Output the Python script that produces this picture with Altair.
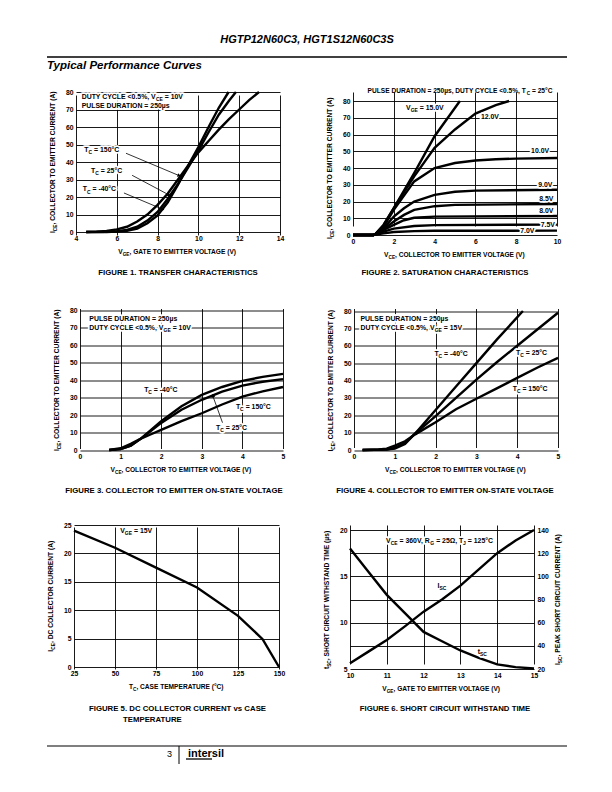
import math
import altair as alt
import pandas as pd

SANS = "Liberation Sans"
LW = 2.4
LABEL_SIZE = 6.9

# ---------------- Figure 1 : transfer characteristics
F1_NAMES = ["-40", "25", "150"]
F1_X_M40 = [4.5, 5.5, 6.0, 6.5, 7.0, 7.5, 8.0, 8.5, 9.0, 9.5, 10.0, 10.5, 11.0, 11.48]
F1_Y_M40 = [0, 0, 0.2, 0.7, 2, 5, 9.5, 17, 27, 38, 48.5, 60, 71, 80]
F1_X_25 = [4.5, 5.5, 6.0, 6.5, 7.0, 7.5, 8.0, 8.5, 9.0, 9.5, 10.0, 10.5, 11.0, 11.5, 11.84]
F1_Y_25 = [0, 0.1, 0.4, 1.2, 3, 6.5, 11.5, 19, 27.5, 37, 46.5, 57, 67, 75, 80]
F1_X_150 = [4.5, 5.0, 5.5, 6.0, 6.5, 7.0, 7.5, 8.0, 8.5, 9.0, 9.5, 10.0, 10.5, 11.0, 11.5, 12.0, 12.5, 12.97]
F1_Y_150 = [0, 0.2, 0.6, 1.5, 3, 6, 10, 15.5, 22, 30, 38, 45.5, 52, 58.5, 64.5, 70, 75.5, 80]
F1_LABELS = ["DUTY CYCLE <0.5%, V{CE} = 10V", "PULSE DURATION = 250µs", "T{C} = 150°C", "T{C} = 25°C", "T{C} = -40°C"]
F1_LABEL_X = [4.28, 4.28, 4.41, 4.74, 4.33]
F1_LABEL_Y = [77.7, 72, 46.9, 35, 24.6]
F1_ARROW_X1 = [6.45, 6.75, 6.35]
F1_ARROW_Y1 = [45.0, 32.4, 22.3]
F1_ARROW_X2 = [9.06, 8.57, 8.25]
F1_ARROW_Y2 = [32.2, 21.1, 13]

# ---------------- Figure 2 : saturation characteristics
F2_NAMES = ["15.0", "12.0", "10.0", "9.0", "8.5", "8.0", "7.5", "7.0"]
F2_X = [
    [0, 1.0, 1.1, 1.5, 2, 3, 4, 5.24],
    [0, 1.0, 1.1, 1.5, 2, 3, 4, 5, 6, 7, 7.65],
    [0, 1.0, 1.1, 1.5, 2, 3, 4, 5, 6, 7, 8, 10],
    [0, 1.0, 1.1, 1.5, 2, 2.5, 3, 4, 5, 6, 10],
    [0, 1.0, 1.1, 1.5, 2, 2.5, 3, 4, 5, 10],
    [0, 1.0, 1.1, 1.5, 2, 2.5, 3, 4, 10],
    [0, 1.0, 1.1, 1.5, 2, 3, 4, 10],
    [0, 1.0, 1.1, 1.5, 2, 3, 4, 10],
]
F2_Y = [
    [0, 0, 0.5, 6, 16, 37, 59, 80],
    [0, 0, 0.5, 6, 16, 35, 52, 63, 72.5, 77.5, 80],
    [0, 0, 0.5, 5, 15, 32, 40, 43, 44.5, 45.2, 45.6, 46],
    [0, 0, 0.5, 4, 11, 16, 20, 24, 25.8, 26.5, 27],
    [0, 0, 0.5, 3.5, 8, 12, 15, 17.2, 18, 18.5],
    [0, 0, 0.5, 3, 6, 8.8, 10.3, 11, 11.3],
    [0, 0, 0.3, 2, 3.8, 5.4, 5.9, 6.2],
    [0, 0, 0.2, 1, 1.8, 2.3, 2.5, 2.6],
]
F2_LABELS = ["V{GE} = 15.0V", "12.0V", "10.0V", "9.0V", "8.5V", "8.0V", "7.5V", "7.0V"]
F2_LABEL_X = [2.6, 6.27, 8.73, 9.08, 9.13, 9.13, 9.2, 8.2]
F2_LABEL_Y = [76.2, 71, 50.3, 30.3, 21.9, 14.9, 6, 2.6]

# ---------------- Figure 3 : on-state voltage, VGE = 10V
F3_NAMES = ["-40", "25", "150"]
F3_X = [0.72, 1.0, 1.25, 1.5, 1.75, 2.0, 2.5, 3.0, 3.5, 4.0, 4.5, 5.0]
F3_Y_M40 = [0, 0.5, 2.5, 6.5, 11.5, 16.5, 25, 31.5, 36, 39.5, 41.8, 43.5]
F3_Y_25 = [0, 0.5, 2.5, 6.5, 11, 15.5, 23, 28.7, 33.3, 36.8, 39, 40.5]
F3_Y_150 = [0, 1, 3.5, 6.5, 9, 11.5, 16.5, 21, 26, 30.5, 33.5, 36]
F3_LABELS = ["PULSE DURATION = 250µs", "DUTY CYCLE <0.5%, V{GE} = 10V", "T{C} = -40°C", "T{C} = 150°C", "T{C} = 25°C"]
F3_LABEL_X = [0.23, 0.23, 1.58, 3.84, 3.35]
F3_LABEL_Y = [74.9, 70.1, 34.7, 25.1, 12.7]
F3_ARROW_X1 = [3.51]
F3_ARROW_Y1 = [15.6]
F3_ARROW_X2 = [3.27]
F3_ARROW_Y2 = [31]

# ---------------- Figure 4 : on-state voltage, VGE = 15V
F4_NAMES = ["-40", "25", "150"]
F4_X_M40 = [0.21, 0.8, 1.0, 1.25, 1.5, 2.0, 2.5, 3.0, 3.5, 4.14]
F4_Y_M40 = [0, 0.2, 0.8, 3.5, 9.5, 23, 36.5, 50, 63.5, 80]
F4_X_25 = [0.21, 0.8, 1.0, 1.25, 1.5, 2.0, 2.5, 3.0, 3.5, 4.0, 4.5, 5.0]
F4_Y_25 = [0, 0.3, 1.2, 4, 9.5, 19.5, 30, 40.5, 50.5, 60, 69.5, 79]
F4_X_150 = [0.21, 0.6, 0.8, 1.0, 1.25, 1.5, 2.0, 2.5, 3.0, 3.5, 4.0, 4.5, 5.0]
F4_Y_150 = [0, 0.3, 0.8, 2.5, 5, 9, 16, 23.5, 29.5, 35.5, 41.5, 47.5, 53]
F4_LABELS = ["PULSE DURATION = 250µs", "DUTY CYCLE <0.5%, V{GE} = 15V", "T{C} = -40°C", "T{C} = 25°C", "T{C} = 150°C"]
F4_LABEL_X = [0.16, 0.16, 1.97, 3.97, 3.89]
F4_LABEL_Y = [75.4, 70.6, 55.7, 56, 35.5]

# ---------------- Figure 5 : DC collector current vs case temperature
F5_TC = [25, 50, 75, 100, 125, 140, 150]
F5_ICE = [24, 21, 17.5, 14, 9, 4.9, 0]
F5_LABELS = ["V{GE} = 15V"]
F5_LABEL_X = [53.2]
F5_LABEL_Y = [24.1]

# ---------------- Figure 6 : short circuit withstand time
F6_VGE = [10, 10.5, 11, 11.5, 12, 12.5, 13, 13.5, 14, 14.5, 15]
F6_TSC = [18, 15.5, 13, 11, 9, 8, 7, 6.2, 5.5, 5.2, 5.05]
F6_ISC = [25, 35, 45, 57, 69.5, 80, 92, 106, 120, 131, 140]
F6_LABELS = ["V{CE} = 360V, R{G} = 25Ω, T{J} = 125°C", "I{SC}", "t{SC}"]
F6_LABEL_X = [10.98, 12.38, 13.47]
F6_LABEL_Y = [18.9, 14, 6.87]

AXIS_TITLES = {
    "vge": "V{GE}, GATE TO EMITTER VOLTAGE (V)",
    "vce": "V{CE}, COLLECTOR TO EMITTER VOLTAGE (V)",
    "ice": "I{CE}, COLLECTOR TO EMITTER CURRENT (A)",
    "tc": "T{C}, CASE TEMPERATURE (°C)",
    "icedc": "I{CE}, DC COLLECTOR CURRENT (A)",
    "tsc": "t{SC}, SHORT CIRCUIT WITHSTAND TIME (µs)",
    "isc": "I{SC}, PEAK SHORT CIRCUIT CURRENT (A)",
}

CAPTIONS = [
    "FIGURE 1.  TRANSFER CHARACTERISTICS",
    "FIGURE 2.  SATURATION CHARACTERISTICS",
    "FIGURE 3.  COLLECTOR TO EMITTER ON-STATE VOLTAGE",
    "FIGURE 4.  COLLECTOR TO EMITTER ON-STATE VOLTAGE",
    "FIGURE 5.  DC COLLECTOR CURRENT vs CASE",
    "TEMPERATURE",
    "FIGURE 6.  SHORT CIRCUIT WITHSTAND TIME",
]

# Liberation Sans Bold advance widths (1/1000 em)
W = {" ": 278, "%": 889, "(": 333, ")": 333, ",": 278, "-": 333, ".": 278, "<": 584, "=": 584,
     "°": 400, "µ": 611, "Ω": 768, "s": 556, "t": 333, "v": 556}
for _c in "0123456789":
    W[_c] = 556
W.update({"A": 722, "B": 722, "C": 722, "D": 722, "E": 667, "F": 611, "G": 778, "H": 722, "I": 278,
          "J": 556, "K": 722, "L": 611, "M": 833, "N": 722, "O": 778, "P": 667, "Q": 778, "R": 722,
          "S": 667, "T": 611, "U": 722, "V": 667, "W": 944, "X": 667, "Y": 667, "Z": 611})


# ---------------- helpers
def series_df(names, xs_list, ys_list):
    rows = []
    for n, xs, ys in zip(names, xs_list, ys_list):
        for a, b in zip(xs, ys):
            rows.append({"s": n, "x": a, "y": b})
    return pd.DataFrame(rows)


def px(dom, rng):
    return lambda v: rng[0] + (v - dom[0]) / (dom[1] - dom[0]) * (rng[1] - rng[0])


def inv(dom, rng):
    return lambda p: dom[0] + (p - rng[0]) / (rng[1] - rng[0]) * (dom[1] - dom[0])


def tw(s, size):
    return sum(W.get(ch, 600) for ch in s) / 1000.0 * size


def parse(s):
    segs, cur, sub = [], "", False
    for ch in s:
        if ch in "{}":
            if cur:
                segs.append((cur, sub))
            cur, sub = "", ch == "{"
        else:
            cur += ch
    if cur:
        segs.append((cur, sub))
    return segs


def rich_rows(text, cx, cy, size, align, angle, ix, iy):
    """Segments of a label with subscripts; cx, cy in panel pixels (cy = vertical centre)."""
    segs = parse(text)
    subsize = 0.72 * size
    widths = [tw(t, subsize if s else size) for t, s in segs]
    cum = 0.0 if align == "left" else -sum(widths) / 2
    rows = []
    for (t, s), w in zip(segs, widths):
        fs = subsize if s else size
        lead = tw(t[: len(t) - len(t.lstrip(" "))], fs)
        down = 0.36 * size + (0.3 * size if s else 0)
        along = cum + lead
        if angle == 0:
            p, q = cx + along, cy + down
        else:
            p, q = cx + down, cy - along
        rows.append({"x": ix(p), "y": iy(q), "t": t.strip(), "fs": fs, "ang": angle})
        cum += w
    return rows


def rich_layers(rows, X, Y, halo):
    df = pd.DataFrame(rows)
    base = alt.Chart(df)
    kw = dict(align="left", baseline="alphabetic", font=SANS, fontWeight="bold")
    enc = dict(x=X, y=Y, text="t:N", size=alt.Size("fs:Q", scale=None),
               angle=alt.Angle("ang:Q", scale=None))
    out = []
    if halo:
        out.append(base.mark_text(stroke="white", strokeWidth=3.5, strokeJoin="round",
                                  color="white", **kw).encode(**enc))
    out.append(base.mark_text(color="black", **kw).encode(**enc))
    return out


def enc_x(dom, rng, vals, off=0):
    return alt.X("x:Q", scale=alt.Scale(domain=dom, range=rng, nice=False, zero=False),
                 axis=alt.Axis(values=vals, title=None, offset=off, labelFlush=False,
                               labelOverlap=False))


def enc_y(dom, rng, vals, off=0, orient="left", grid=True):
    return alt.Y("y:Q", scale=alt.Scale(domain=dom, range=rng, nice=False, zero=False),
                 axis=alt.Axis(values=vals, title=None, offset=off, labelFlush=False,
                               labelOverlap=False, orient=orient, grid=grid))


def lines(df, X, Y):
    return alt.Chart(df).mark_line(color="black", strokeWidth=LW).encode(x=X, y=Y, detail="s:N")


def annotations(X, Y, xd, xr, yd, yr, xs, ys, ts, xtitle, ytitle, extra=None, size=LABEL_SIZE):
    fx, fy, ix, iy = px(xd, xr), px(yd, yr), inv(xd, xr), inv(yd, yr)
    lab = []
    for a, b, t in zip(xs, ys, ts):
        lab += rich_rows(t, fx(a), fy(b), size, "left", 0, ix, iy)
    tit = rich_rows(AXIS_TITLES[xtitle], (xr[0] + xr[1]) / 2, yr[0] + 19.5, 6.6, "center", 0, ix, iy)
    if ytitle:
        tit += rich_rows(AXIS_TITLES[ytitle], xr[0] - 23, (yr[0] + yr[1]) / 2, 6.7, "center", 270, ix, iy)
    for item in (extra or []):
        tit += rich_rows(item[0], item[1], item[2], item[3], item[4], item[5], ix, iy)
    return rich_layers(lab, X, Y, True) + rich_layers(tit, X, Y, False)


def arrows(X, Y, xdom, xrng, ydom, yrng, x1, y1, x2, y2):
    fx, fy = px(xdom, xrng), px(ydom, yrng)
    ang = []
    for a, b, c, d in zip(x1, y1, x2, y2):
        dx, dy = fx(c) - fx(a), fy(d) - fy(b)
        ang.append((math.degrees(math.atan2(dx, -dy)) + 360) % 360)
    rdf = pd.DataFrame({"x": x1, "y": y1, "x2": x2, "y2": y2})
    hdf = pd.DataFrame({"x": x2, "y": y2, "a": ang})
    rule = alt.Chart(rdf).mark_rule(color="black", strokeWidth=0.8).encode(
        x=X, y=Y, x2="x2:Q", y2="y2:Q")
    head = alt.Chart(hdf).mark_point(shape="triangle-up", filled=True, color="black",
                                     size=16, opacity=1).encode(
        x=X, y=Y, angle=alt.Angle("a:Q", scale=None))
    return [rule, head]


def ptext(text, x, y, size, align="left", weight="normal", style="normal"):
    return alt.Chart(pd.DataFrame({"t": [text]})).mark_text(
        align=align, baseline="middle", fontSize=size, fontWeight=weight, fontStyle=style,
        font=SANS, color="black").encode(x=alt.value(x), y=alt.value(y), text="t:N")


def prule(x1, y1, x2, y2, w=1.2):
    return alt.Chart(pd.DataFrame({"k": [0]})).mark_rule(color="black", strokeWidth=w).encode(
        x=alt.value(x1), x2=alt.value(x2), y=alt.value(y1), y2=alt.value(y2))


def caption(text, x, y, align="center"):
    return ptext(text, x, y, 7.8, align=align, weight="bold")


# ---------------- Figure 1  (panel origin 73, 92)
x1d, x1r, y1d, y1r = [4, 14], [2, 206], [0, 80], [140, 0]
X1 = enc_x(x1d, x1r, [4, 6, 8, 10, 12, 14], -3)
Y1 = enc_y(y1d, y1r, list(range(0, 81, 10)), -2)
fig1 = alt.layer(
    lines(series_df(F1_NAMES, [F1_X_M40, F1_X_25, F1_X_150], [F1_Y_M40, F1_Y_25, F1_Y_150]), X1, Y1),
    *annotations(X1, Y1, x1d, x1r, y1d, y1r, F1_LABEL_X, F1_LABEL_Y, F1_LABELS, "vge", "ice"),
    *arrows(X1, Y1, x1d, x1r, y1d, y1r, F1_ARROW_X1, F1_ARROW_Y1, F1_ARROW_X2, F1_ARROW_Y2),
    caption(CAPTIONS[0], 104, 181),
    ptext("HGTP12N60C3, HGT1S12N60C3S", 233, -52, 11, "center", "bold", "italic"),
    prule(-27, -35, 493, -35, 1.5),
    ptext("Typical Performance Curves", -27, -26, 11.5, "left", "bold", "italic"),
).properties(width=210, height=143)

# ---------------- Figure 2  (panel origin 349, 92)
x2d, x2r, y2d, y2r = [0, 10], [3, 207], [0, 80], [143, 9]
X2 = enc_x(x2d, x2r, [0, 2, 4, 6, 8, 10])
Y2 = enc_y(y2d, y2r, list(range(0, 81, 10)), -3)
fig2 = alt.layer(
    lines(series_df(F2_NAMES, F2_X, F2_Y), X2, Y2),
    *annotations(X2, Y2, x2d, x2r, y2d, y2r, F2_LABEL_X, F2_LABEL_Y, F2_LABELS, "vce", "ice",
                 extra=[("PULSE DURATION = 250µs, DUTY CYCLE <0.5%, T{C} = 25°C", 110, -1, 6.6, "center", 0)]),
    caption(CAPTIONS[1], 95, 181),
).properties(width=208, height=143)

# ---------------- Figure 3  (panel origin 73, 308.5)
x3d, x3r, y3d, y3r = [0, 5], [6, 209], [0, 80], [141.5, 1.5]
X3 = enc_x(x3d, x3r, [0, 1, 2, 3, 4, 5])
Y3 = enc_y(y3d, y3r, list(range(0, 81, 10)), -6)
fig3 = alt.layer(
    lines(series_df(F3_NAMES, [F3_X] * 3, [F3_Y_M40, F3_Y_25, F3_Y_150]), X3, Y3),
    *annotations(X3, Y3, x3d, x3r, y3d, y3r, F3_LABEL_X, F3_LABEL_Y, F3_LABELS, "vce", "ice"),
    *arrows(X3, Y3, x3d, x3r, y3d, y3r, F3_ARROW_X1, F3_ARROW_Y1, F3_ARROW_X2, F3_ARROW_Y2),
    caption(CAPTIONS[2], 100, 182.5),
).properties(width=210, height=141.5)

# ---------------- Figure 4  (panel origin 349, 308.5)
x4d, x4r, y4d, y4r = [0, 5], [4, 208], [0, 80], [141.5, 2.5]
X4 = enc_x(x4d, x4r, [0, 1, 2, 3, 4, 5])
Y4 = enc_y(y4d, y4r, list(range(0, 81, 10)), -4)
fig4 = alt.layer(
    lines(series_df(F4_NAMES, [F4_X_M40, F4_X_25, F4_X_150], [F4_Y_M40, F4_Y_25, F4_Y_150]), X4, Y4),
    *annotations(X4, Y4, x4d, x4r, y4d, y4r, F4_LABEL_X, F4_LABEL_Y, F4_LABELS, "vce", "ice"),
    caption(CAPTIONS[3], 95, 182.5),
).properties(width=208, height=141.5)

# ---------------- Figure 5  (panel origin 73, 525)
x5d, x5r, y5d, y5r = [25, 150], [0, 205], [0, 25], [142, 0]
X5 = enc_x(x5d, x5r, [25, 50, 75, 100, 125, 150], -2)
Y5 = enc_y(y5d, y5r, [0, 5, 10, 15, 20, 25])
fig5 = alt.layer(
    lines(series_df(["dc"], [F5_TC], [F5_ICE]), X5, Y5),
    *annotations(X5, Y5, x5d, x5r, y5d, y5r, F5_LABEL_X, F5_LABEL_Y, F5_LABELS, "tc", "icedc"),
    caption(CAPTIONS[4], 15, 184, "left"),
    caption(CAPTIONS[5], 49, 195, "left"),
    prule(-27, 221, 493, 221, 1.2),
    ptext("3", 98, 229, 9, "right"),
    prule(105, 221, 105, 239, 1),
    ptext("intersil", 114, 229, 11, "left", "bold"),
    prule(112, 234, 138, 234, 1.3),
).properties(width=210, height=144)

# ---------------- Figure 6  (panel origin 349, 525)
x6d, x6r, y6d, y6r = [10, 15], [0, 184], [5, 20], [144, 5]
X6 = enc_x(x6d, x6r, [10, 11, 12, 13, 14, 15])
Y6L = enc_y(y6d, y6r, [5, 10, 15, 20], grid=False)
Y6R = enc_y([20, 140], y6r, list(range(20, 141, 20)), orient="right")
left6 = alt.layer(
    lines(series_df(["tsc"], [F6_VGE], [F6_TSC]), X6, Y6L),
    *annotations(X6, Y6L, x6d, x6r, y6d, y6r, F6_LABEL_X, F6_LABEL_Y, F6_LABELS, "vge", "tsc",
                 extra=[(AXIS_TITLES["isc"], 184 + 24, 74.5, 6.7, "center", 270)]),
    caption(CAPTIONS[6], 95, 184),
)
right6 = alt.layer(lines(series_df(["isc"], [F6_VGE], [F6_ISC]), X6, Y6R))
fig6 = alt.layer(left6, right6).resolve_scale(y="independent").properties(width=184, height=144)

row1 = alt.hconcat(fig1, fig2, spacing=66, bounds="flush")
row2 = alt.hconcat(fig3, fig4, spacing=66, bounds="flush")
row3 = alt.hconcat(fig5, fig6, spacing=66, bounds="flush")

# with flush bounds the nested rows count as zero height, so spacing is the row pitch
chart = alt.vconcat(row1, row2, row3, spacing=216.5, bounds="flush").properties(
    padding={"left": 38, "top": 26, "right": 5, "bottom": 5},
    background="white",
).configure_view(stroke=None).configure_axis(
    labelFont=SANS, labelFontWeight="bold", labelFontSize=6.8, labelColor="black", labelPadding=3,
    gridColor="black", gridWidth=0.9, gridOpacity=1, domain=False, ticks=False,
)

chart.save("out.html", embed_options={"renderer": "svg", "actions": False})
